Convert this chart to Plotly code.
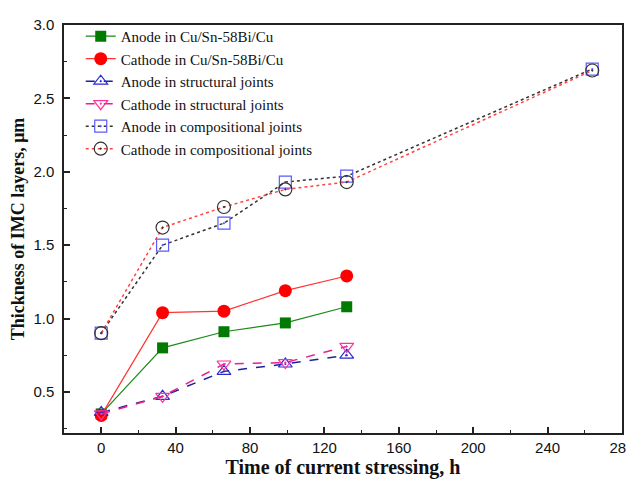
import plotly.graph_objects as go

time_main = [0, 33, 66, 99, 132]
time_comp = [0, 33, 66, 99, 132, 264]

anode_cu = [0.35, 0.80, 0.91, 0.97, 1.08]
cathode_cu = [0.34, 1.04, 1.05, 1.19, 1.29]
anode_struct = [0.36, 0.47, 0.64, 0.69, 0.75]
cathode_struct = [0.35, 0.47, 0.69, 0.70, 0.81]
anode_comp = [0.90, 1.50, 1.65, 1.93, 1.97, 2.70]
cathode_comp = [0.90, 1.62, 1.76, 1.88, 1.93, 2.69]

names = [
    "Anode in Cu/Sn-58Bi/Cu",
    "Cathode in Cu/Sn-58Bi/Cu",
    "Anode in structural joints",
    "Cathode in structural joints",
    "Anode in compositional joints",
    "Cathode in compositional joints",
]

x_ticks = [0, 40, 80, 120, 160, 200, 240, 280]
y_ticks = [0.5, 1.0, 1.5, 2.0, 2.5, 3.0]
y_ticktext = ["0.5", "1.0", "1.5", "2.0", "2.5", "3.0"]

fig = go.Figure()
fig.add_trace(go.Scatter(x=time_main, y=anode_cu, name=names[0], mode="lines+markers",
                         line=dict(color="#1a8a1a", width=1.2),
                         marker=dict(symbol="square", size=11, color="#007a00")))
fig.add_trace(go.Scatter(x=time_main, y=cathode_cu, name=names[1], mode="lines+markers",
                         line=dict(color="#ff3333", width=1.2),
                         marker=dict(symbol="circle", size=13, color="#ff0000")))
fig.add_trace(go.Scatter(x=time_main, y=anode_struct, name=names[2], mode="lines+markers",
                         line=dict(color="#2020a0", width=1.5, dash="dash"),
                         marker=dict(symbol="triangle-up-open-dot", size=12, color="#2a2ad0",
                                     line=dict(width=1.2))))
fig.add_trace(go.Scatter(x=time_main, y=cathode_struct, name=names[3], mode="lines+markers",
                         line=dict(color="#e8208a", width=1.5, dash="dash"),
                         marker=dict(symbol="triangle-down-open-dot", size=12, color="#ff3399",
                                     line=dict(width=1.2))))
fig.add_trace(go.Scatter(x=time_comp, y=anode_comp, name=names[4], mode="lines+markers",
                         line=dict(color="#333333", width=1.5, dash="dot"),
                         marker=dict(symbol="square-open-dot", size=12, color="#5a5aff",
                                     line=dict(width=1.2))))
fig.add_trace(go.Scatter(x=time_comp, y=cathode_comp, name=names[5], mode="lines+markers",
                         line=dict(color="#ff4444", width=1.5, dash="dot"),
                         marker=dict(symbol="circle-open-dot", size=13, color="#333333",
                                     line=dict(width=1.2))))

# the page body has an 8px default margin, so the figure is sized to fit inside it
fig.update_layout(
    width=626, height=471,
    margin=dict(l=56, r=12, t=13, b=46),
    plot_bgcolor="white", paper_bgcolor="white",
    showlegend=True,
    legend=dict(x=0.030, y=1.0125, xanchor="left", yanchor="top",
                bgcolor="rgba(0,0,0,0)", borderwidth=0,
                font=dict(family="Liberation Serif", size=15, color="#111"),
                tracegroupgap=0),
    font=dict(family="Liberation Sans", size=15, color="#111"),
)
fig.update_xaxes(range=[-20, 280], tickvals=x_ticks, automargin=False,
                 ticklabeloverflow="allow",
                 ticks="inside", ticklen=6, tickwidth=1.5, tickcolor="#222",
                 minor=dict(dtick=20, tick0=0, ticks="inside", ticklen=3, tickwidth=1.2, tickcolor="#222"),
                 showline=True, linecolor="#222", linewidth=1.5, mirror=True,
                 showgrid=False, zeroline=False,
                 tickfont=dict(family="Liberation Sans", size=15),
                 title=dict(text="<b>Time of current stressing, h</b>", standoff=4,
                            font=dict(family="Liberation Serif", size=20, color="#111")))
fig.update_yaxes(range=[0.22, 3.0], tickvals=y_ticks, ticktext=y_ticktext, automargin=False,
                 ticks="inside", ticklen=6, tickwidth=1.5, tickcolor="#222",
                 ticklabelstandoff=5,
                 minor=dict(dtick=0.25, tick0=0, ticks="inside", ticklen=3, tickwidth=1.2, tickcolor="#222"),
                 showline=True, linecolor="#222", linewidth=1.5, mirror=True,
                 showgrid=False, zeroline=False,
                 tickfont=dict(family="Liberation Sans", size=15),
                 title=dict(text="<b>Thickness of IMC layers, μm</b>", standoff=4,
                            font=dict(family="Liberation Serif", size=18, color="#111")))

fig.write_html("out.html")
